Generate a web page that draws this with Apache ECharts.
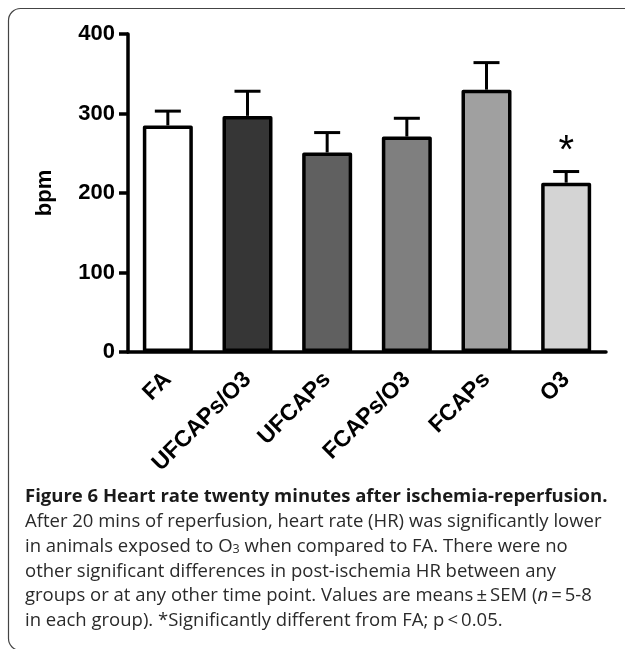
<!DOCTYPE html>
<html>
<head>
<meta charset="utf-8">
<script src="https://cdn.jsdelivr.net/npm/echarts@6/dist/echarts.min.js"></script>
<style>
html,body{margin:0;padding:0;background:#fff;}
#chart{width:625px;height:649px;}
</style>
</head>
<body>
<div id="chart"></div>
<script>
// ---- data ----
var categories = ['FA', 'UFCAPs/O3', 'UFCAPs', 'FCAPs/O3', 'FCAPs', 'O3'];
var means = [285, 297, 251, 271, 330, 213];
var sem = [18, 31, 25, 23, 34, 14];
var barColors = ['#ffffff', '#363636', '#606060', '#7f7f7f', '#a0a0a0', '#d4d4d4'];
var marks = ['', '', '', '', '', '*'];
var yMin = 0, yMax = 400, yStep = 100;
var yName = 'bpm';
var captionLines = [
  {bold: true, text: 'Figure 6 Heart rate twenty minutes after ischemia-reperfusion.'},
  {text: 'After 20 mins of reperfusion, heart rate (HR) was significantly lower'},
  {text: 'in animals exposed to O{sub|3} when compared to FA. There were no'},
  {text: 'other significant differences in post-ischemia HR between any'},
  {text: 'groups or at any other time point. Values are means\u2009\u00b1\u2009SEM ({i|n}\u2009=\u20095-8'},
  {text: 'in each group). *Significantly different from FA; p\u2009<\u20090.05.'}
];

var chart = echarts.init(document.getElementById('chart'), null, {renderer: 'canvas'});

var axisFont = 'Liberation Sans';
var capFont = 'Open Sans';
var capSize = 18.5;
var captionY0 = 497, captionStep = 24.8;

var graphics = [{
  type: 'rect',
  shape: {x: 8.5, y: 8.5, width: 660, height: 642, r: 12},
  style: {fill: 'none', stroke: '#444', lineWidth: 1.2},
  silent: true
}];
captionLines.forEach(function (ln, i) {
  graphics.push({
    type: 'text',
    x: 25,
    y: captionY0 + i * captionStep,
    style: {
      text: ln.text,
      fontFamily: capFont,
      fontSize: capSize,
      fontWeight: ln.bold ? 'bold' : 'normal',
      fill: ln.bold ? '#1a1a1a' : '#2a2a2a',
      align: 'left',
      verticalAlign: 'middle',
      rich: {
        sub: {fontSize: 12.5, fontFamily: capFont, fill: '#2a2a2a', verticalAlign: 'bottom', lineHeight: 12},
        i: {fontSize: capSize, fontFamily: capFont, fontStyle: 'italic', fill: '#2a2a2a'}
      }
    }
  });
});

var option = {
  animation: false,
  backgroundColor: '#fff',
  grid: {left: 128, right: 19, top: 34, bottom: 297, containLabel: false},
  xAxis: {
    type: 'category',
    data: categories,
    axisLine: {lineStyle: {color: '#000', width: 3.5}},
    axisTick: {show: false},
    axisLabel: {
      rotate: 45, margin: 24, color: '#000', fontFamily: axisFont,
      fontWeight: 'bold', fontSize: 23, interval: 0
    }
  },
  yAxis: {
    type: 'value',
    min: yMin, max: yMax, interval: yStep,
    name: yName, nameLocation: 'middle', nameGap: 72, nameRotate: 90,
    nameTextStyle: {color: '#000', fontFamily: axisFont, fontWeight: 'bold', fontSize: 22},
    splitLine: {show: false},
    axisLine: {show: true, lineStyle: {color: '#000', width: 3.5}},
    axisTick: {show: true, length: 9, lineStyle: {color: '#000', width: 3.5}},
    axisLabel: {margin: 13, color: '#000', fontFamily: axisFont, fontWeight: 'bold', fontSize: 22}
  },
  series: [{
    type: 'bar',
    data: means.map(function (v, i) {
      return {value: v, itemStyle: {color: barColors[i]}};
    }),
    barWidth: 50,
    itemStyle: {borderColor: '#000', borderWidth: 3.5, borderJoin: 'round'},
    z: 3
  }, {
    type: 'custom',
    data: means.map(function (v, i) { return [i, v, v + sem[i]]; }),
    z: 2,
    renderItem: function (params, api) {
      var i = api.value(0);
      var base = api.coord([i, api.value(1)]);
      var top = api.coord([i, api.value(2)]);
      var half = 13;
      var children = [{
        type: 'line',
        shape: {x1: base[0], y1: base[1], x2: top[0], y2: top[1]},
        style: {stroke: '#000', lineWidth: 3}
      }, {
        type: 'line',
        shape: {x1: base[0] - half, y1: top[1], x2: base[0] + half, y2: top[1]},
        style: {stroke: '#000', lineWidth: 3}
      }];
      var m = marks[params.dataIndex];
      if (m) {
        children.push({
          type: 'text',
          x: base[0], y: top[1] - 20,
          style: {text: m, fontFamily: axisFont, fontSize: 40, fill: '#000', align: 'center', verticalAlign: 'middle'}
        });
      }
      return {type: 'group', children: children};
    }
  }],
  graphic: graphics
};
chart.setOption(option);
</script>
</body>
</html>
